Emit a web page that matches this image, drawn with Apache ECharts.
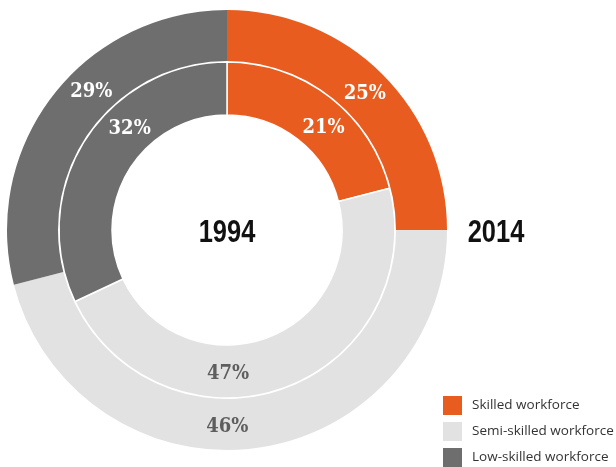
<!DOCTYPE html>
<html>
<head>
<meta charset="utf-8">
<script src="https://cdn.jsdelivr.net/npm/echarts@6/dist/echarts.min.js"></script>
<style>
  html, body { margin: 0; padding: 0; background: #ffffff; }
  #chart { width: 616px; height: 467px; }
</style>
</head>
<body>
<div id="chart"></div>
<script>
// Workforce composition, inner ring 1994, outer ring 2014
const categories = ['Skilled workforce', 'Semi-skilled workforce', 'Low-skilled workforce'];
const share1994 = [21, 47, 32];
const share2014 = [25, 46, 29];
const ringYears = ['1994', '2014'];

const sliceColors = ['#E95C1F', '#E2E2E2', '#6E6E6E'];
const labelColors = ['#ffffff', '#5E5E5E', '#ffffff'];
// angle (degrees clockwise from top) at which each slice's label sits
const innerLabelAngles = [43, 180, 317];
const outerLabelAngles = [45, 180, 316];
// labels sit slightly inside the ring's mid radius, nudged down for glyph baseline
const LABEL_INSET = 2.5;
const LABEL_DROP = 2;

const CENTER = [227, 230];
const INNER_RADIUS = [115, 168];
const OUTER_RADIUS = [169, 220];

function polar(r, deg) {
  const a = deg * Math.PI / 180;
  return [r * Math.sin(a), -r * Math.cos(a)];
}

// Build pie data, shifting each inside label from the slice's mid angle to its chosen angle
function ringData(values, radius, angles) {
  const total = values.reduce((s, v) => s + v, 0);
  const rm = (radius[0] + radius[1]) / 2;
  let cum = 0;
  return values.map((v, i) => {
    const mid = (cum + v / 2) / total * 360;
    cum += v;
    const from = polar(rm, mid);
    const to = polar(rm - LABEL_INSET, angles[i]);
    return {
      name: categories[i],
      value: v,
      itemStyle: { color: sliceColors[i] },
      label: { color: labelColors[i], offset: [to[0] - from[0], to[1] - from[1] + LABEL_DROP] }
    };
  });
}

const labelStyle = {
  show: true,
  position: 'inside',
  formatter: '{c}%',
  fontFamily: '"DejaVu Serif Condensed", "DejaVu Serif", serif',
  fontWeight: 'bold',
  fontSize: 20
};

const yearStyle = {
  fontFamily: '"Liberation Sans", Arial, sans-serif',
  fontWeight: 'bold',
  fontSize: 31,
  fill: '#111111',
  align: 'center',
  verticalAlign: 'middle'
};

const chart = echarts.init(document.getElementById('chart'), null, { renderer: 'canvas' });

chart.setOption({
  animation: false,
  legend: {
    orient: 'vertical',
    left: 443,
    top: 396,
    padding: 0,
    icon: 'rect',
    itemWidth: 19,
    itemHeight: 19,
    itemGap: 7,
    selectedMode: false,
    data: categories,
    itemStyle: { borderWidth: 0 },
    textStyle: { fontFamily: 'Open Sans', fontSize: 13.5, color: '#333333', padding: [0, 0, 0, 5] }
  },
  series: [
    {
      name: ringYears[0],
      type: 'pie',
      center: CENTER,
      radius: INNER_RADIUS,
      startAngle: 90,
      clockwise: true,
      avoidLabelOverlap: false,
      silent: true,
      itemStyle: { borderColor: '#ffffff', borderWidth: 1.5 },
      label: labelStyle,
      labelLine: { show: false },
      emphasis: { disabled: true },
      data: ringData(share1994, INNER_RADIUS, innerLabelAngles)
    },
    {
      name: ringYears[1],
      type: 'pie',
      center: CENTER,
      radius: OUTER_RADIUS,
      startAngle: 90,
      clockwise: true,
      avoidLabelOverlap: false,
      silent: true,
      itemStyle: { borderWidth: 0 },
      label: labelStyle,
      labelLine: { show: false },
      emphasis: { disabled: true },
      data: ringData(share2014, OUTER_RADIUS, outerLabelAngles)
    }
  ],
  graphic: [
    {
      type: 'text',
      x: CENTER[0],
      y: CENTER[1] + 3,
      scaleX: 0.82,
      style: Object.assign({ text: ringYears[0] }, yearStyle)
    },
    {
      type: 'text',
      x: 496,
      y: CENTER[1] + 3,
      scaleX: 0.82,
      style: Object.assign({ text: ringYears[1] }, yearStyle)
    }
  ]
});
</script>
</body>
</html>
